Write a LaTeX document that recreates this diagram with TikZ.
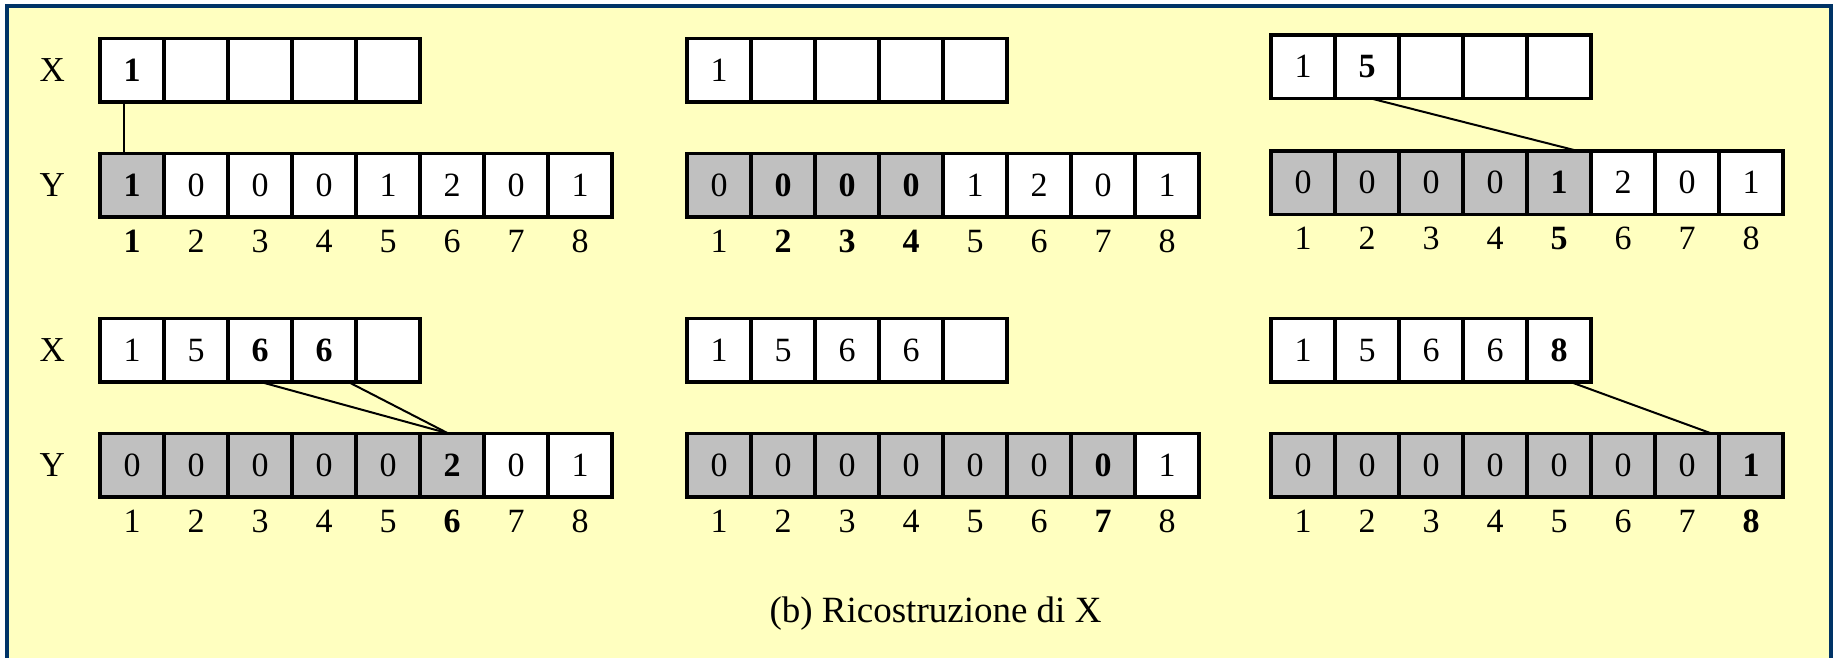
\documentclass[tikz,border=0pt]{standalone}
\usepackage{fontspec}
\setmainfont{Liberation Serif}
\usetikzlibrary{positioning}
\definecolor{panelbg}{HTML}{FFFFC0}
\definecolor{panelblue}{HTML}{003366}
\definecolor{cellgray}{HTML}{C0C0C0}

\begin{document}
\begin{tikzpicture}[x=1pt,y=-1pt,
  cell/.style={draw,line width=3.5pt,minimum width=64pt,minimum height=63.5pt,
    inner sep=0pt,outer sep=0pt,font=\fontsize{34}{40}\selectfont},
  wcell/.style={cell,fill=white},
  gcell/.style={cell,fill=cellgray},
  idx/.style={inner sep=0pt,font=\fontsize{34}{40}\selectfont},
  rowlbl/.style={inner sep=0pt,font=\fontsize{35}{40}\selectfont},
  link/.style={line width=2pt}]
  \useasboundingbox (0,0) rectangle (1835,657);
  \fill[white] (0,0) rectangle (1835,657);
  \draw[panelblue,line width=4pt,fill=panelbg] (7,5.7) rectangle (1831,680);

  \begin{scope}[shift={(100,38.3)}]
    \foreach \v [count=\i] in {\textbf{1},{},{},{},{}}
      \node[wcell] (x1-\i) at (64*\i-32,31.75) {\v};
    \foreach \s/\v [count=\i] in {gcell/\textbf{1},wcell/0,wcell/0,wcell/0,wcell/1,wcell/2,wcell/0,wcell/1}
      \node[\s] (y1-\i) at (64*\i-32,146.75) {\v};
    \foreach \v [count=\i] in {\textbf{1},2,3,4,5,6,7,8}
      \node[idx] (n1-\i) at (64*\i-32,203.3) {\v};
  \end{scope}
  \node[rowlbl,left=35pt of x1-1] (lblx1) {X};
  \node[rowlbl,left=35pt of y1-1] (lbly1) {Y};

  \begin{scope}[shift={(687,38.3)}]
    \foreach \v [count=\i] in {1,{},{},{},{}}
      \node[wcell] (x2-\i) at (64*\i-32,31.75) {\v};
    \foreach \s/\v [count=\i] in {gcell/0,gcell/\textbf{0},gcell/\textbf{0},gcell/\textbf{0},wcell/1,wcell/2,wcell/0,wcell/1}
      \node[\s] (y2-\i) at (64*\i-32,146.75) {\v};
    \foreach \v [count=\i] in {1,\textbf{2},\textbf{3},\textbf{4},5,6,7,8}
      \node[idx] (n2-\i) at (64*\i-32,203.3) {\v};
  \end{scope}

  \begin{scope}[shift={(1271,35)}]
    \foreach \v [count=\i] in {1,\textbf{5},{},{},{}}
      \node[wcell] (x3-\i) at (64*\i-32,31.75) {\v};
    \foreach \s/\v [count=\i] in {gcell/0,gcell/0,gcell/0,gcell/0,gcell/\textbf{1},wcell/2,wcell/0,wcell/1}
      \node[\s] (y3-\i) at (64*\i-32,147.5) {\v};
    \foreach \v [count=\i] in {1,2,3,4,\textbf{5},6,7,8}
      \node[idx] (n3-\i) at (64*\i-32,203.5) {\v};
  \end{scope}

  \begin{scope}[shift={(100,318.3)}]
    \foreach \v [count=\i] in {1,5,\textbf{6},\textbf{6},{}}
      \node[wcell] (x4-\i) at (64*\i-32,31.75) {\v};
    \foreach \s/\v [count=\i] in {gcell/0,gcell/0,gcell/0,gcell/0,gcell/0,gcell/\textbf{2},wcell/0,wcell/1}
      \node[\s] (y4-\i) at (64*\i-32,146.75) {\v};
    \foreach \v [count=\i] in {1,2,3,4,5,\textbf{6},7,8}
      \node[idx] (n4-\i) at (64*\i-32,203.4) {\v};
  \end{scope}
  \node[rowlbl,left=35pt of x4-1] (lblx4) {X};
  \node[rowlbl,left=35pt of y4-1] (lbly4) {Y};

  \begin{scope}[shift={(687,318.3)}]
    \foreach \v [count=\i] in {1,5,6,6,{}}
      \node[wcell] (x5-\i) at (64*\i-32,31.75) {\v};
    \foreach \s/\v [count=\i] in {gcell/0,gcell/0,gcell/0,gcell/0,gcell/0,gcell/0,gcell/\textbf{0},wcell/1}
      \node[\s] (y5-\i) at (64*\i-32,146.75) {\v};
    \foreach \v [count=\i] in {1,2,3,4,5,6,\textbf{7},8}
      \node[idx] (n5-\i) at (64*\i-32,203.4) {\v};
  \end{scope}

  \begin{scope}[shift={(1271,318.3)}]
    \foreach \v [count=\i] in {1,5,6,6,\textbf{8}}
      \node[wcell] (x6-\i) at (64*\i-32,31.75) {\v};
    \foreach \s/\v [count=\i] in {gcell/0,gcell/0,gcell/0,gcell/0,gcell/0,gcell/0,gcell/0,gcell/\textbf{1}}
      \node[\s] (y6-\i) at (64*\i-32,146.75) {\v};
    \foreach \v [count=\i] in {1,2,3,4,5,6,7,\textbf{8}}
      \node[idx] (n6-\i) at (64*\i-32,203.4) {\v};
  \end{scope}

  \draw[link] ([xshift=-8pt]x1-1.south) -- ([xshift=-8pt]y1-1.north);
  \draw[link] ([xshift=4pt]x3-2.south) -- ([xshift=18pt]y3-5.north);
  \draw[link] (x4-3.south) -- ([xshift=-4pt]y4-6.north);
  \draw[link] ([xshift=24pt]x4-4.south) -- ([xshift=-4pt]y4-6.north);
  \draw[link] ([xshift=11pt]x6-5.south) -- ([xshift=-8pt]y6-8.north west);

  \node[font=\fontsize{37}{44}\selectfont,anchor=base] (caption) at (935.5,622.7) {(b) Ricostruzione di X};
\end{tikzpicture}
\end{document}
